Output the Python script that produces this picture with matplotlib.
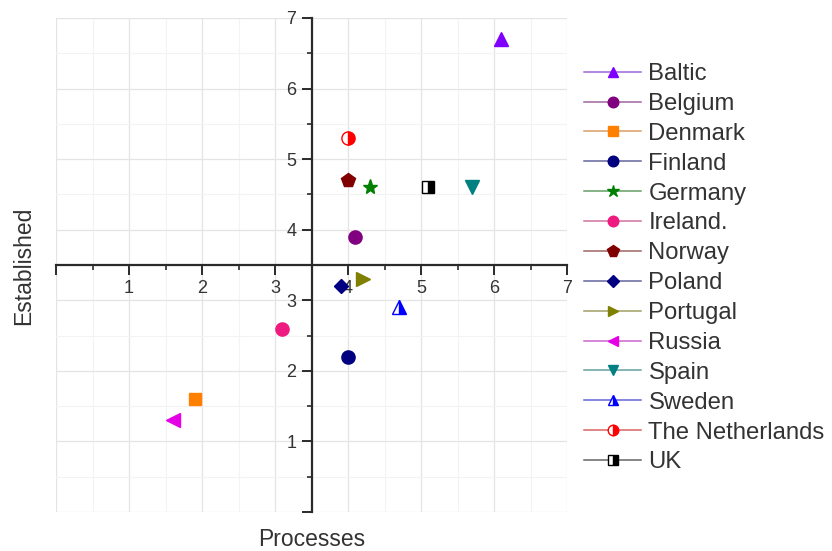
import matplotlib
matplotlib.use("Agg")
import matplotlib.pyplot as plt
from matplotlib.lines import Line2D
from matplotlib.colors import to_rgb
from matplotlib.ticker import MultipleLocator, FixedLocator, FixedFormatter

plt.rcParams['font.family'] = ['Liberation Sans', 'DejaVu Sans']

countries = ["Baltic", "Belgium", "Denmark", "Finland", "Germany", "Ireland.",
             "Norway", "Poland", "Portugal", "Russia", "Spain", "Sweden",
             "The Netherlands", "UK"]
processes = [6.1, 4.1, 1.9, 4.0, 4.3, 3.1, 4.0, 3.9, 4.2, 1.6, 5.7, 4.7, 4.0, 5.1]
established = [6.7, 3.9, 1.6, 2.2, 4.6, 2.6, 4.7, 3.2, 3.3, 1.3, 4.6, 2.9, 5.3, 4.6]

colors = ["#8000FF", "#800080", "#FF8000", "#000080", "#008000", "#EE1A80",
          "#800000", "#000080", "#808000", "#E600E6", "#008080", "#0000FF",
          "#FF0000", "#000000"]
markers = ["^", "o", "s", "o", "*", "o", "p", "D", ">", "<", "v", "^", "o", "s"]
fills = ["full"] * 11 + ["right", "right", "right"]
sizes = [9.5, 9.5, 8.5, 9.5, 11, 9.5, 10.5, 7.5, 9.5, 9.5, 9.5, 9.5, 9.5, 8.5]

x_ticks = [0, 1, 2, 3, 4, 5, 6, 7]
x_labels = ["", "1", "2", "3", "4", "5", "6", "7"]
y_ticks = [0, 1, 2, 3, 4, 5, 6, 7]
y_labels = ["", "1", "2", "3", "4", "5", "6", "7"]

W, H = 832, 551
fig = plt.figure(figsize=(W / 100, H / 100), dpi=100)
ax = fig.add_axes([56 / W, (H - 512) / H, (567 - 56) / W, (512 - 18) / H])

handles = []
for i, c in enumerate(countries):
    ax.plot([processes[i]], [established[i]], linestyle='none',
            marker=markers[i], markersize=sizes[i], fillstyle=fills[i],
            markerfacecolor=colors[i], markerfacecoloralt='white',
            markeredgewidth=1.0, markeredgecolor=colors[i],
            zorder=5, clip_on=False)
    r, g, b = to_rgb(colors[i])
    light = (0.45 * r + 0.55 * 0.72, 0.45 * g + 0.55 * 0.72, 0.45 * b + 0.55 * 0.72)
    handles.append(Line2D([0], [0], color=light, linewidth=1.1,
                          marker=markers[i], markersize=sizes[i] * 0.8,
                          fillstyle=fills[i], markerfacecolor=colors[i],
                          markerfacecoloralt='white', markeredgecolor=colors[i],
                          markeredgewidth=1.0, label=c))

ax.set_xlim(0, 7)
ax.set_ylim(0, 7)

for s in ['top', 'right']:
    ax.spines[s].set_visible(False)
for s in ['left', 'bottom']:
    ax.spines[s].set_position(('data', 3.5))
    ax.spines[s].set_linewidth(1.6)
    ax.spines[s].set_color('#2a2a2a')

ax.xaxis.set_major_locator(FixedLocator(x_ticks))
ax.xaxis.set_major_formatter(FixedFormatter(x_labels))
ax.yaxis.set_major_locator(FixedLocator(y_ticks))
ax.yaxis.set_major_formatter(FixedFormatter(y_labels))
ax.xaxis.set_minor_locator(MultipleLocator(0.5))
ax.yaxis.set_minor_locator(MultipleLocator(0.5))

ax.tick_params(which='major', direction='out', length=7, width=1.4,
               color='#2a2a2a', labelsize=13, labelcolor='#333333', pad=4)
ax.tick_params(which='minor', direction='out', length=3.5, width=1.2,
               color='#2a2a2a')

ax.grid(which='major', color='#e4e4e4', linewidth=0.9, zorder=0)
ax.grid(which='minor', color='#f3f3f3', linewidth=0.8, zorder=0)
ax.set_axisbelow(True)

fig.text(311.5 / W, 1 - 540 / H, "Processes", ha='center', va='center',
         fontsize=16.5, color='#333333')
fig.text(24 / W, 1 - 266 / H, "Established", ha='center', va='center',
         rotation=90, fontsize=16.5, color='#333333')

leg = ax.legend(handles=handles, loc='upper left',
                bbox_to_anchor=(584 / W, 1 - 63 / H),
                bbox_transform=fig.transFigure, frameon=False, fontsize=17.2,
                handlelength=2.4, handletextpad=0.3, labelspacing=0.33,
                borderpad=0, borderaxespad=0)
for t in leg.get_texts():
    t.set_color('#333333')

fig.savefig("out.png", dpi=100)
